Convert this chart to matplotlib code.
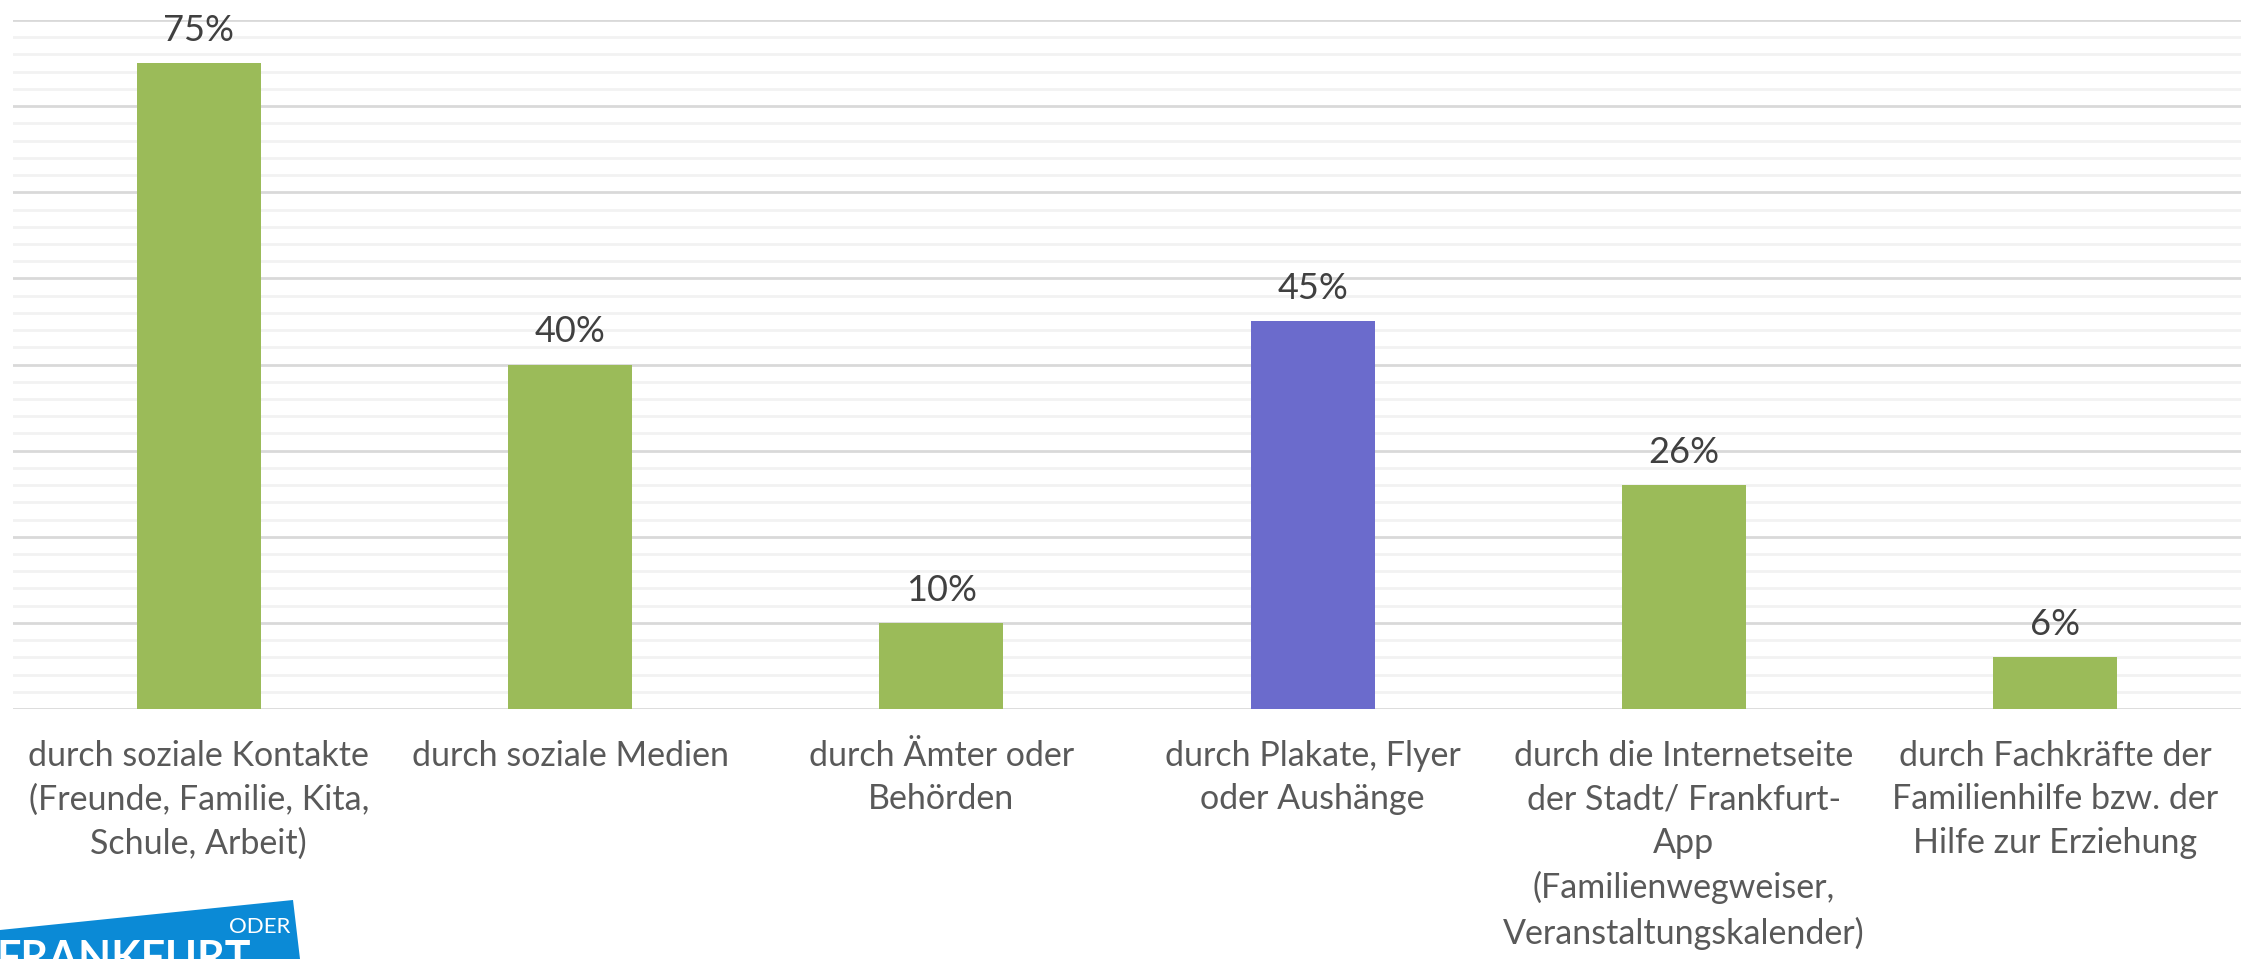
import matplotlib.pyplot as plt
from matplotlib.patches import Polygon
from matplotlib.ticker import MultipleLocator

categories = [
    "durch soziale Kontakte\n(Freunde, Familie, Kita,\nSchule, Arbeit)",
    "durch soziale Medien",
    "durch Ämter oder\nBehörden",
    "durch Plakate, Flyer\noder Aushänge",
    "durch die Internetseite\nder Stadt/ Frankfurt-\nApp\n(Familienwegweiser,\nVeranstaltungskalender)",
    "durch Fachkräfte der\nFamilienhilfe bzw. der\nHilfe zur Erziehung",
]
values = [75, 40, 10, 45, 26, 6]
highlight = [False, False, False, True, False, False]

plt.rcParams['font.family'] = ['Lato', 'DejaVu Sans']

fig = plt.figure(figsize=(22.49, 9.59), dpi=100)
ax = fig.add_axes([0.0058, 0.2607, 0.9906, 0.7184])

colors = ['#6b6bcc' if h else '#9bbb59' for h in highlight]
x = range(len(values))
bars = ax.bar(x, values, width=0.334, color=colors, zorder=3)

ax.set_xlim(-0.5, len(values) - 0.5)
ax.set_ylim(0, 80)
ax.yaxis.set_major_locator(MultipleLocator(10))
ax.yaxis.set_minor_locator(MultipleLocator(2))
ax.grid(axis='y', which='minor', color='#f2f2f2', linewidth=2, zorder=0)
ax.grid(axis='y', which='major', color='#d9d9d9', linewidth=2, zorder=1)
ax.tick_params(axis='y', which='both', left=False, labelleft=False)
for s in ax.spines.values():
    s.set_visible(False)

ax.set_xticks(list(x))
ax.set_xticklabels(categories, fontsize=24.5, color='#595959', linespacing=1.45)
ax.tick_params(axis='x', length=0, pad=22)

for b, v in zip(bars, values):
    ax.annotate(f"{v}%", (b.get_x() + b.get_width() / 2, v),
                xytext=(0, 16), textcoords='offset points',
                ha='center', va='baseline', fontsize=26, color='#404040')

# logo in the lower left corner
W, H = 2249, 959
pts = [(0, 930), (293, 900), (300, 959), (0, 959)]
fig.patches.append(Polygon([(px / W, 1 - py / H) for px, py in pts],
                           closed=True, transform=fig.transFigure,
                           facecolor='#0b8ad6', edgecolor='none'))
fig.text(290 / W, 1 - 933 / H, "ODER", color='white', fontsize=16,
         ha='right', va='baseline')
fig.text(-4 / W, 1 - 972 / H, "FRANKFURT", color='white', fontsize=31,
         fontweight='bold', ha='left', va='baseline')

fig.savefig('out.png', dpi=100)
